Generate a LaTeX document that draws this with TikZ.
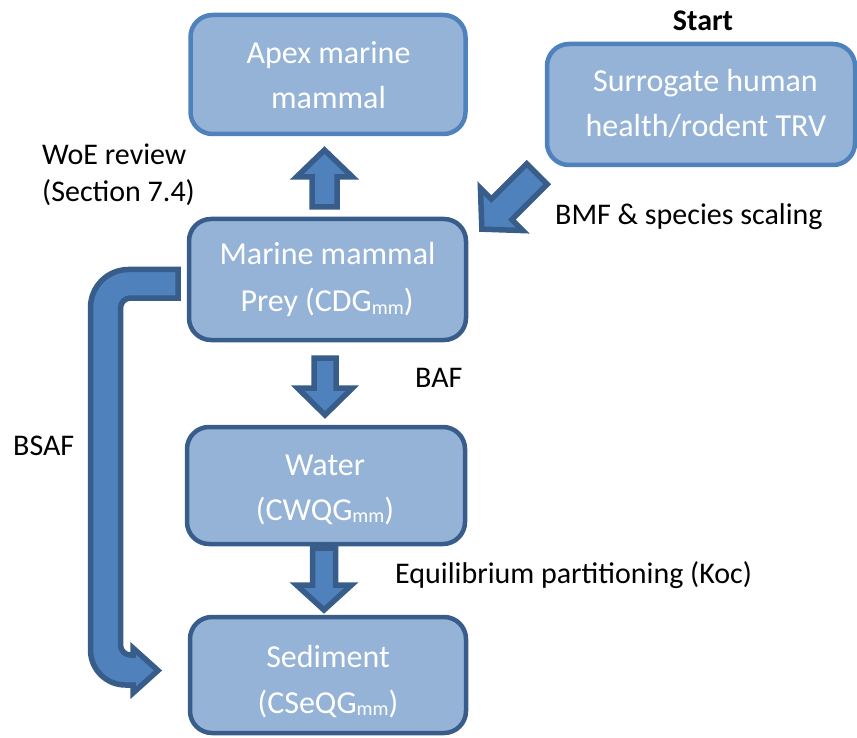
\documentclass[tikz,border=0pt]{standalone}
\usepackage{fontspec}
\setmainfont{Carlito}
\definecolor{boxfill}{HTML}{95B3D7}
\definecolor{lightedge}{HTML}{4F81BD}
\definecolor{darkedge}{HTML}{385D8A}
\definecolor{arrowfill}{HTML}{4F81BD}
\tikzset{
  boxbase/.style={draw, line width=4.5pt, fill=boxfill, rounded corners=22pt, inner sep=0pt},
  lightbox/.style={boxbase, draw=lightedge},
  darkbox/.style={boxbase, draw=darkedge},
  wtext/.style={text=white, font=\fontsize{32}{38}\selectfont, inner sep=0pt, anchor=base},
  ktext/.style={text=black, font=\fontsize{30}{36}\selectfont, inner sep=0pt},
  blockarrow/.style={draw=darkedge, fill=arrowfill, line width=5.5pt, line join=miter},
}
\newcommand{\mmsub}{\raisebox{-2.5pt}{\fontsize{20}{20}\selectfont mm}}
\begin{document}
\begin{tikzpicture}[x=1pt,y=1pt,yscale=-1]
\useasboundingbox (0,0) rectangle (857,738);

% boxes
\node[lightbox, minimum width=275pt, minimum height=119pt] (apex) at (328,74.5) {};
\node[lightbox, minimum width=308pt, minimum height=121pt] (surr) at (701,104.5) {};
\node[darkbox, minimum width=277pt, minimum height=121pt] (prey) at (327.5,279.5) {};
\node[darkbox, minimum width=278pt, minimum height=117pt] (water) at (326,485.5) {};
\node[darkbox, minimum width=276pt, minimum height=116pt] (sed) at (328,675) {};

% box texts
\node[wtext] (apex1) at (328.5,64) {Apex marine};
\node[wtext] (apex2) at (328.5,109) {mammal};
\node[wtext] (surr1) at (705.5,92) {Surrogate human};
\node[wtext] (surr2) at (706,137) {health/rodent TRV};
\node[wtext] (prey1) at (327.5,265) {Marine mammal};
\node[wtext] (prey2) at (327,312) {Prey (CDG\mmsub)};
\node[wtext] (water1) at (325,475) {Water};
\node[wtext] (water2) at (325,520) {(CWQG\mmsub)};
\node[wtext] (sed1) at (328,667) {Sediment};
\node[wtext] (sed2) at (328,713) {(CSeQG\mmsub)};

% black labels
\node[ktext, anchor=base, font=\fontsize{30}{36}\selectfont\bfseries] (start) at (703,31) {Start};
\node[ktext, anchor=base west] (bmf) at (555,225) {BMF \& species scaling};
\node[ktext, anchor=base west] (woe1) at (42,165) {WoE review};
\node[ktext, anchor=base west] (woe2) at (42,202) {(Section 7.4)};
\node[ktext, anchor=base west] (baf) at (415,387) {BAF};
\node[ktext, anchor=base west] (bsaf) at (13,455) {BSAF};
\node[ktext, anchor=base west] (eqp) at (395,583) {Equilibrium partitioning (Koc)};

% straight block arrows (local frame: shaft 0..a, head a..L)
% up arrow: prey -> apex
\draw[blockarrow, shift={(324.5,207)}, rotate=270]
  (0,-12.5) -- (30,-12.5) -- (30,-28) -- (57,0) -- (30,28) -- (30,12.5) -- (0,12.5) -- cycle;
% BAF arrow: prey -> water
\draw[blockarrow, shift={(325,358)}, rotate=90]
  (0,-11) -- (30,-11) -- (30,-27.5) -- (57,0) -- (30,27.5) -- (30,11) -- (0,11) -- cycle;
% Koc arrow: water -> sediment
\draw[blockarrow, shift={(324,548)}, rotate=90]
  (0,-11.5) -- (37,-11.5) -- (37,-27.5) -- (62,0) -- (37,27.5) -- (37,11.5) -- (0,11.5) -- cycle;
% diagonal arrow: surrogate -> prey
\draw[blockarrow, shift={(537,174)}, rotate=135]
  (0,-14.5) -- (50,-14.5) -- (50,-30) -- (78,0) -- (50,30) -- (50,14.5) -- (0,14.5) -- cycle;

% BSAF bent arrow: prey -> sediment
\draw[blockarrow]
  (178,269.5) -- (128.5,269.5) arc[start angle=270, end angle=180, radius=38]
  -- (90.5,650) arc[start angle=180, end angle=90, radius=35]
  -- (133,685) -- (133,693) -- (158,670.5) -- (133,648) -- (133,655)
  -- (130.5,655) arc[start angle=90, end angle=180, radius=10]
  -- (120.5,308) arc[start angle=180, end angle=270, radius=10]
  -- (178,298) -- cycle;
\end{tikzpicture}
\end{document}
